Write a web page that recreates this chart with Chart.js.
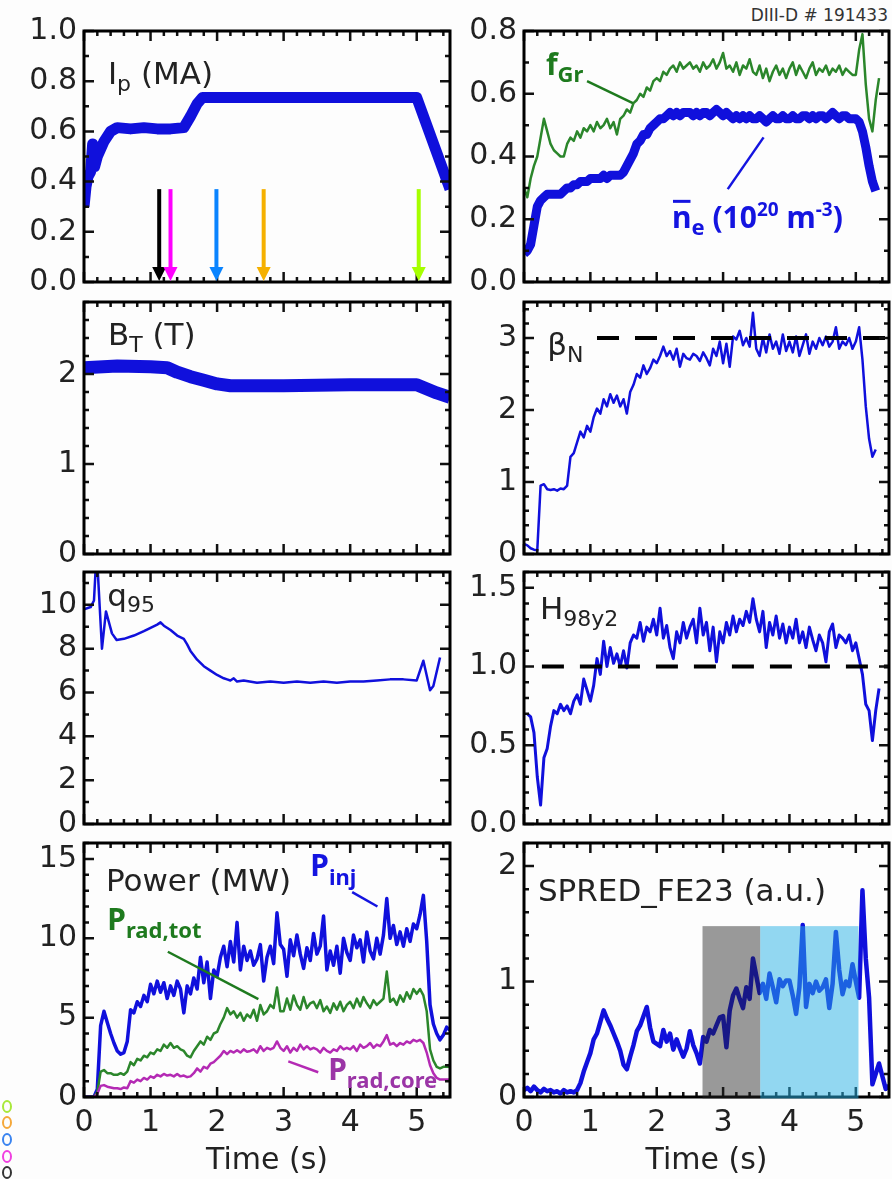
<!DOCTYPE html>
<html>
<head>
<meta charset="utf-8">
<title>DIII-D 191433</title>
<script src="https://cdn.jsdelivr.net/npm/chart.js@4.4.1/dist/chart.umd.min.js"></script>
<style>
  body { margin: 0; background: #fff; }
  #page { position: relative; width: 892px; height: 1179px; overflow: hidden; background: #fdfdfd; }
  #page canvas { position: absolute; }
  #shot { position: absolute; right: 4px; top: 5px; font: 17px 'DejaVu Sans', sans-serif; color: #333; }
  .ring { position: absolute; left: 2px; width: 6px; height: 9px; border: 2px solid; border-radius: 50%; }
</style>
</head>
<body>
<div id="page">
  <div id="shot">DIII-D # 191433</div>
  <canvas id="ip" width="454" height="301" style="left:0;top:6px"></canvas>
  <canvas id="dens" width="452" height="301" style="left:440px;top:6px"></canvas>
  <canvas id="bt" width="454" height="302" style="left:0;top:277px"></canvas>
  <canvas id="beta" width="452" height="302" style="left:440px;top:277px"></canvas>
  <canvas id="q95" width="454" height="302" style="left:0;top:547px"></canvas>
  <canvas id="h98" width="452" height="302" style="left:440px;top:547px"></canvas>
  <canvas id="power" width="454" height="361" style="left:0;top:818px"></canvas>
  <canvas id="spred" width="452" height="361" style="left:440px;top:818px"></canvas>
  <span class="ring" style="top:1100px;border-color:#a8e83a"></span>
  <span class="ring" style="top:1116px;border-color:#f5a83a"></span>
  <span class="ring" style="top:1133px;border-color:#3a84f0"></span>
  <span class="ring" style="top:1150px;border-color:#f040e0"></span>
  <span class="ring" style="top:1166px;border-color:#333"></span>
</div>
<script>
Chart.defaults.font.family = "'DejaVu Sans', sans-serif";

// time base for the sampled traces (s)
const tGrid = [
  0, 0.05, 0.1, 0.15, 0.2, 0.25, 0.3, 0.35, 0.4, 0.45,
  0.5, 0.55, 0.6, 0.65, 0.7, 0.75, 0.8, 0.85, 0.9, 0.95,
  1, 1.05, 1.1, 1.15, 1.2, 1.25, 1.3, 1.35, 1.4, 1.45,
  1.5, 1.55, 1.6, 1.65, 1.7, 1.75, 1.8, 1.85, 1.9, 1.95,
  2, 2.05, 2.1, 2.15, 2.2, 2.25, 2.3, 2.35, 2.4, 2.45,
  2.5, 2.55, 2.6, 2.65, 2.7, 2.75, 2.8, 2.85, 2.9, 2.95,
  3, 3.05, 3.1, 3.15, 3.2, 3.25, 3.3, 3.35, 3.4, 3.45,
  3.5, 3.55, 3.6, 3.65, 3.7, 3.75, 3.8, 3.85, 3.9, 3.95,
  4, 4.05, 4.1, 4.15, 4.2, 4.25, 4.3, 4.35, 4.4, 4.45,
  4.5, 4.55, 4.6, 4.65, 4.7, 4.75, 4.8, 4.85, 4.9, 4.95,
  5, 5.05, 5.1, 5.15, 5.2, 5.25, 5.3, 5.35, 5.4, 5.45,
  5.5
];

// plasma current (MA)
const ipT = [0, 0.03, 0.06, 0.1, 0.13, 0.16, 0.2, 0.3, 0.4, 0.5, 0.7, 0.9, 1.1, 1.3, 1.5, 1.6, 1.7, 1.78, 2.0, 2.5, 3.0, 3.5, 4.0, 4.5, 5.0, 5.5];
const ipV = [0.30, 0.38, 0.42, 0.44, 0.55, 0.46, 0.50, 0.56, 0.60, 0.615, 0.61, 0.615, 0.61, 0.61, 0.615, 0.66, 0.71, 0.735, 0.735, 0.735, 0.735, 0.735, 0.735, 0.735, 0.735, 0.37];

// line-averaged density (1e20 m^-3) and Greenwald fraction
const neV = [
  0.09, 0.10, 0.12, 0.18, 0.24, 0.26, 0.27, 0.28, 0.28, 0.28,
  0.28, 0.28, 0.29, 0.30, 0.30, 0.31, 0.31, 0.32, 0.32, 0.32,
  0.33, 0.33, 0.33, 0.33, 0.34, 0.33, 0.34, 0.34, 0.34, 0.34,
  0.35, 0.37, 0.39, 0.41, 0.44, 0.45, 0.47, 0.47, 0.49, 0.50,
  0.51, 0.52, 0.52, 0.53, 0.54, 0.53, 0.54, 0.53, 0.54, 0.54,
  0.54, 0.53, 0.54, 0.53, 0.54, 0.54, 0.53, 0.54, 0.55, 0.54,
  0.53, 0.54, 0.53, 0.52, 0.53, 0.52, 0.53, 0.52, 0.53, 0.52,
  0.52, 0.53, 0.52, 0.51, 0.52, 0.53, 0.52, 0.52, 0.53, 0.52,
  0.52, 0.53, 0.52, 0.52, 0.53, 0.53, 0.52, 0.53, 0.52, 0.53,
  0.53, 0.52, 0.53, 0.54, 0.53, 0.52, 0.53, 0.53, 0.52, 0.52,
  0.52, 0.51, 0.48, 0.43, 0.37, 0.32, 0.29, null, null, null,
  null
];
const fGrV = [
  0.30, 0.27, 0.33, 0.37, 0.40, 0.46, 0.52, 0.48, 0.44, 0.42,
  0.41, 0.40, 0.40, 0.44, 0.46, 0.45, 0.48, 0.46, 0.49, 0.48,
  0.50, 0.48, 0.51, 0.49, 0.50, 0.52, 0.49, 0.51, 0.47, 0.52,
  0.53, 0.55, 0.54, 0.57, 0.58, 0.60, 0.59, 0.62, 0.61, 0.64,
  0.65, 0.64, 0.67, 0.66, 0.68, 0.69, 0.67, 0.70, 0.68, 0.69,
  0.70, 0.68, 0.69, 0.67, 0.70, 0.68, 0.69, 0.71, 0.68, 0.70,
  0.73, 0.68, 0.69, 0.67, 0.70, 0.66, 0.69, 0.68, 0.71, 0.67,
  0.66, 0.69, 0.65, 0.68, 0.64, 0.67, 0.69, 0.66, 0.68, 0.65,
  0.68, 0.70, 0.66, 0.69, 0.67, 0.65, 0.68, 0.70, 0.66, 0.68,
  0.67, 0.69, 0.66, 0.68, 0.67, 0.69, 0.66, 0.68, 0.67, 0.66,
  0.66, 0.74, 0.79, 0.63, 0.52, 0.48, 0.58, 0.65, null, null,
  null
];

// toroidal field (T)
const btT = [0, 0.5, 1.0, 1.25, 1.4, 1.6, 1.8, 2.0, 2.2, 3.0, 4.0, 5.0, 5.1, 5.3, 5.5];
const btV = [2.07, 2.09, 2.08, 2.07, 2.02, 1.97, 1.93, 1.89, 1.87, 1.87, 1.88, 1.88, 1.85, 1.79, 1.74];

// normalised beta
const betaV = [
  0.14, 0.12, 0.08, 0.06, 0.05, 0.95, 0.97, 0.90, 0.89, 0.90,
  0.88, 0.91, 0.90, 0.95, 1.35, 1.40, 1.55, 1.70, 1.62, 1.78,
  1.70, 1.90, 2.02, 1.95, 2.15, 2.05, 2.22, 2.10, 2.20, 2.05,
  2.15, 1.95, 2.25, 2.35, 2.50, 2.45, 2.62, 2.50, 2.58, 2.70,
  2.65, 2.75, 2.88, 2.75, 2.82, 2.70, 2.85, 2.60, 2.78, 2.72,
  2.70, 2.78, 2.75, 2.68, 2.80, 2.72, 2.62, 2.85, 2.75, 2.95,
  2.65, 2.92, 2.60, 3.02, 2.98, 3.10, 2.90, 3.00, 2.88, 3.35,
  2.85, 2.75, 3.00, 2.80, 3.05, 2.85, 2.95, 2.78, 3.05, 2.82,
  2.95, 2.80, 3.02, 2.75, 2.90, 3.05, 2.78, 2.95, 2.85, 3.00,
  2.90, 3.02, 2.88, 2.95, 3.15, 2.85, 2.95, 2.90, 3.00, 2.85,
  2.95, 3.15, 2.70, 2.05, 1.60, 1.35, 1.45, null, null, null,
  null
];
const betaRefT = [1.1, 5.5];
const betaRefV = [3, 3];

// edge safety factor
const q95T = [0, 0.1, 0.15, 0.19, 0.27, 0.33, 0.42, 0.49, 0.6, 0.75, 0.9, 1.0, 1.1, 1.15, 1.2, 1.3, 1.4, 1.5, 1.55, 1.6, 1.7, 1.8, 1.9, 2.0, 2.1, 2.15, 2.2, 2.25, 2.3, 2.4, 2.6, 2.8, 3.0, 3.2, 3.4, 3.6, 3.8, 4.0, 4.2, 4.4, 4.6, 4.8, 5.0, 5.1, 5.2, 5.25, 5.35];
const q95V = [9.8, 9.9, 10.2, 12.5, 8.0, 9.7, 8.7, 8.4, 8.45, 8.6, 8.8, 8.95, 9.1, 9.2, 9.05, 8.85, 8.6, 8.45, 8.2, 7.9, 7.5, 7.2, 7.0, 6.8, 6.65, 6.6, 6.55, 6.65, 6.5, 6.55, 6.45, 6.5, 6.45, 6.5, 6.45, 6.5, 6.45, 6.5, 6.5, 6.55, 6.6, 6.6, 6.55, 7.45, 6.1, 6.3, 7.6];

// confinement factor H98y2
const h98V = [
  null, 0.70, 0.68, 0.58, 0.30, 0.12, 0.42, 0.48, 0.62, 0.72,
  0.70, 0.76, 0.72, 0.75, 0.70, 0.78, 0.82, 0.76, 0.92, 0.85,
  0.78, 0.88, 1.05, 0.95, 1.16, 1.00, 1.12, 1.02, 1.08, 1.00,
  1.10, 0.99, 1.15, 1.20, 1.18, 1.28, 1.16, 1.25, 1.22, 1.30,
  1.20, 1.37, 1.18, 1.26, 1.12, 1.05, 1.22, 1.15, 1.28, 1.18,
  1.25, 1.30, 1.15, 1.37, 1.20, 1.28, 1.10, 1.25, 1.03, 1.22,
  1.15, 1.28, 1.20, 1.32, 1.22, 1.30, 1.26, 1.35, 1.28, 1.43,
  1.30, 1.22, 1.35, 1.12, 1.28, 1.20, 1.32, 1.18, 1.27, 1.15,
  1.25, 1.18, 1.30, 1.15, 1.22, 1.12, 1.25, 1.17, 1.10, 1.20,
  1.15, 1.03, 1.22, 1.27, 1.12, 1.20, 1.18, 1.15, 1.20, 1.10,
  1.15, 1.05, 0.95, 0.76, 0.72, 0.53, 0.72, 0.86, null, null,
  null
];
const h98RefT = [0.27, 5.5];
const h98RefV = [1, 1];

// heating and radiated power (MW)
const pInjV = [
  0, 0, 0, 0, 0.5, 4.5, 5.4, 4.7, 4.0, 3.4,
  2.9, 2.7, 2.8, 3.5, 5.5, 5.3, 6.0, 5.7, 6.4, 6.0,
  7.1, 6.5, 7.3, 6.6, 7.2, 6.2, 7.0, 6.4, 7.3, 6.8,
  5.3, 7.0, 6.5, 7.5, 6.8, 8.8, 7.2, 8.5, 6.2, 8.0,
  7.6, 8.8, 9.5, 8.2, 9.8, 8.5, 11.0, 8.0, 9.5, 8.6,
  9.2, 8.3, 8.7, 9.6, 7.3, 8.8, 9.5, 8.4, 11.6, 9.6,
  9.3, 7.6, 9.9, 8.9, 10.2, 9.0, 8.1, 9.4, 8.6, 10.3,
  9.0, 9.5, 11.4, 8.0, 9.2, 8.3, 9.5, 7.8, 10.0, 9.1,
  8.6, 10.2, 9.4, 9.9, 8.5, 10.4, 9.2, 8.7, 10.0, 9.0,
  10.2, 12.5, 10.0, 10.8, 9.6, 10.4, 9.5, 10.6, 9.8, 10.9,
  10.6, 11.5, 12.7, 9.8, 5.8, 4.6, 4.0, 3.6, 3.9, 4.4,
  4.2
];
const pRadTotV = [
  0, 0, 0, 0, 0.3, 1.6, 1.7, 1.5, 1.5, 1.4,
  1.4, 1.5, 1.4, 1.6, 2.2, 2.0, 2.4, 2.3, 2.6, 2.5,
  2.8, 2.7, 3.0, 2.9, 3.3, 3.1, 3.4, 3.1, 3.2, 3.0,
  2.9, 2.6, 2.5, 2.9, 3.2, 3.5, 3.3, 3.8, 3.6, 4.0,
  4.1, 4.6, 5.0, 5.6, 5.2, 5.4, 5.0, 5.3, 4.8, 5.2,
  5.0, 5.5, 4.8, 5.8, 5.2, 5.4, 5.8, 5.6, 6.9, 5.4,
  5.4, 6.2, 5.5, 6.4, 5.8, 5.5, 6.3, 5.6, 5.9, 6.0,
  5.6, 6.1, 5.4, 5.7, 5.3, 5.9, 5.5, 6.0, 5.4, 5.8,
  6.0, 5.6, 6.2, 5.7, 6.3, 5.9, 5.6, 6.1, 5.8, 6.0,
  6.2, 7.9, 6.0, 6.2, 5.8, 6.4, 6.0, 6.6, 6.2, 6.8,
  6.5, 6.8, 6.4, 5.4, 3.0, 2.3, 1.9, 1.8, 1.9, 1.9,
  1.9
];
const pRadCoreV = [
  0, 0, 0, 0, 0.2, 0.7, 0.75, 0.65, 0.6, 0.55,
  0.55, 0.5, 0.6, 0.55, 1.0, 0.9, 1.1, 1.0, 1.2, 1.1,
  1.3, 1.2, 1.4, 1.3, 1.45, 1.35, 1.4, 1.3, 1.45, 1.3,
  1.35, 1.25, 1.3, 1.5, 1.8, 1.6, 1.9, 1.8, 2.1, 2.2,
  2.4, 2.6, 2.9, 2.7, 2.9, 2.8, 2.95, 2.8, 3.0, 2.85,
  2.9, 3.0, 2.8, 3.2, 2.9, 3.1, 3.0, 3.1, 3.5, 3.1,
  2.9, 3.2, 2.8, 3.1, 2.9, 3.3, 3.0, 3.2, 3.0, 3.1,
  3.0, 2.8, 3.1, 2.9, 2.8, 3.0, 2.9, 3.2, 3.0, 3.1,
  3.0, 3.2, 2.9, 3.3, 3.1, 3.2, 3.4, 3.1, 3.3, 3.2,
  3.5, 3.9, 3.3, 3.4, 3.2, 3.4, 3.3, 3.5, 3.4, 3.6,
  3.5, 3.6, 3.4, 2.8, 2.0, 1.5, 1.2, 1.1, 1.1, 1.1,
  1.1
];

// SPRED Fe XXIII line brightness (a.u.)
const spredV = [
  0.06, 0.08, 0.05, 0.09, 0.06, 0.04, 0.07, 0.05, 0.06, 0.04,
  0.05, 0.03, 0.06, 0.04, 0.05, 0.04, 0.06, 0.12, 0.22, 0.30,
  0.38, 0.50, 0.55, 0.65, 0.75, 0.68, 0.62, 0.55, 0.48, 0.40,
  0.28, 0.24, 0.35, 0.45, 0.57, 0.62, 0.70, 0.78, 0.60, 0.48,
  0.46, 0.44, 0.58, 0.48, 0.55, 0.41, 0.50, 0.42, 0.35, 0.42,
  0.57, 0.45, 0.38, 0.29, 0.52, 0.48, 0.58, 0.55, 0.62, 0.69,
  0.70, 0.43, 0.75, 0.88, 0.94, 0.85, 0.77, 0.95, 0.85, 1.20,
  1.05, 0.90, 0.98, 0.85, 1.07, 0.95, 0.82, 1.02, 0.96, 1.01,
  1.01, 0.88, 0.72, 0.95, 1.49, 0.78, 0.98, 0.90, 1.00, 0.92,
  0.95, 1.02, 0.77, 0.98, 1.43, 1.10, 0.89, 1.00, 0.96, 1.15,
  1.00, 0.86, 1.79, 1.20, 0.86, 0.11, 0.20, 0.29, 0.18, 0.07,
  0.10
];

// analysis time slices (s) and averaging windows
const sliceTimes = [1.13, 1.30, 1.99, 2.70, 5.03];
const sliceTop = 0.37;
const windowStart = [2.69, 3.56];
const windowEnd = [3.56, 5.04];
const windowTop = 1.48;

const BLUE = '#1010dc';
const GREEN = '#2b862b';
const MAGENTA = '#b42ab4';
const sliceColors = ['#000000', '#ff00ff', '#0a84ff', '#f5b000', '#a6ff00'];
const windowColors = ['rgba(35,35,35,0.46)', 'rgba(40,178,229,0.5)'];

const textStyles = {
  plain: { family: "'DejaVu Sans'", weight: 'normal', size: 31, color: '#222' },
  blue: { family: "'Noto Sans'", weight: 'bold', size: 30, color: '#1414e0' },
  green: { family: "'Noto Sans'", weight: 'bold', size: 30, color: '#1e7a1e' },
  purple: { family: "'Noto Sans'", weight: 'bold', size: 30, color: '#9b35a6' }
};

// per-panel axes and annotations (annotation anchors are in data units)
const panelCfg = {
  ip: { yMax: 1, yStep: 0.2, yMinor: 0.1, dec: 1, padRight: 4, arrows: true,
    texts: [{ x: 0.36, y: 0.79, parts: [{ t: 'I' }, { t: 'p', size: 22, dy: 7 }, { t: ' (MA)' }] }] },
  dens: { yMax: 0.8, yStep: 0.2, yMinor: 0.1, dec: 1, padRight: 3,
    texts: [
      { x: 0.33, y: 0.66, style: 'green', parts: [{ t: 'f' }, { t: 'Gr', size: 22, dy: 7 }] },
      { x: 2.23, y: 0.171, style: 'blue', parts: [{ t: 'n', bar: true }, { t: 'e', size: 22, dy: 7 }, { t: ' (10' }, { t: '20', size: 19, dy: -12 }, { t: ' m' }, { t: '-3', size: 19, dy: -12 }, { t: ')' }] }
    ],
    leaders: [
      { from: [0.95, 0.64], to: [1.64, 0.57], color: '#1e7a1e' },
      { from: [3.07, 0.296], to: [3.61, 0.461], color: '#1414e0' }
    ] },
  bt: { yMax: 2.8, yStep: 1, yMinor: 0.2, dec: 0, padRight: 4,
    texts: [{ x: 0.36, y: 2.32, parts: [{ t: 'B' }, { t: 'T', size: 22, dy: 7 }, { t: ' (T)' }] }] },
  beta: { yMax: 3.5, yStep: 1, yMinor: 0.2, dec: 0, padRight: 3,
    texts: [{ x: 0.35, y: 2.77, parts: [{ t: 'β' }, { t: 'N', size: 22, dy: 7 }] }] },
  q95: { yMax: 11.5, yStep: 2, yMinor: 1, dec: 0, padRight: 4,
    texts: [{ x: 0.35, y: 9.96, parts: [{ t: 'q' }, { t: '95', size: 22, dy: 6 }] }] },
  h98: { yMax: 1.6, yStep: 0.5, yMinor: 0.1, dec: 1, padRight: 3,
    texts: [{ x: 0.24, y: 1.30, parts: [{ t: 'H' }, { t: '98y2', size: 22, dy: 7 }] }] },
  power: { yMax: 16, yStep: 5, yMinor: 1, dec: 0, padRight: 4, xTitle: 'Time (s)',
    texts: [
      { x: 0.33, y: 13.0, parts: [{ t: 'Power (MW)' }] },
      { x: 3.40, y: 13.95, style: 'blue', parts: [{ t: 'P' }, { t: 'inj', size: 22, dy: 9 }] },
      { x: 0.35, y: 10.5, style: 'green', parts: [{ t: 'P' }, { t: 'rad,tot', size: 22, dy: 8 }] },
      { x: 3.67, y: 1.06, style: 'purple', parts: [{ t: 'P' }, { t: 'rad,core', size: 22, dy: 8 }] }
    ],
    leaders: [
      { from: [4.03, 12.9], to: [4.41, 12.0], color: '#1414e0' },
      { from: [1.26, 9.15], to: [2.62, 6.16], color: '#1e7a1e' },
      { from: [3.07, 2.24], to: [3.52, 1.56], color: '#b42ab4' }
    ] },
  spred: { yMax: 2.2, yStep: 1, yMinor: 0.2, dec: 0, padRight: 3, xTitle: 'Time (s)', windows: true,
    texts: [{ x: 0.21, y: 1.70, parts: [{ t: 'SPRED_FE23 (a.u.)' }] }] }
};

const toXY = (ts, vs) => ts.map((t, i) => ({ x: t, y: vs[i] }));

function trace(ts, vs, color, width) {
  return { data: toXY(ts, vs), borderColor: color, borderWidth: width, pointRadius: 0,
    borderJoinStyle: 'round', fill: false, tension: 0 };
}
function dashed(ts, vs) {
  return { data: toXY(ts, vs), borderColor: '#000', borderWidth: 4, borderDash: [22, 16], pointRadius: 0 };
}

function steps(min, max, step) {
  const out = [];
  const n = Math.floor((max - min) / step + 1e-6);
  for (let i = 0; i <= n; i++) out.push(min + i * step);
  return out;
}
const onStep = (v, step) => Math.abs(v / step - Math.round(v / step)) < 1e-6;

function richText(ctx, x, y, parts, st) {
  let cx = x;
  for (const p of parts) {
    const size = p.size || st.size;
    ctx.font = `${st.weight} ${size}px ${st.family}`;
    ctx.fillStyle = st.color;
    const w = ctx.measureText(p.t).width;
    ctx.fillText(p.t, cx, y + (p.dy || 0));
    if (p.bar) ctx.fillRect(cx + 1, y - size * 0.95, w - 2, 3);
    cx += w;
  }
}

// inward ticks on all four sides, frame, windows, arrows and labels
const framePlugin = {
  id: 'frame',
  afterDatasetsDraw(chart) {
    const c = panelCfg[chart.canvas.id];
    const { ctx, chartArea: a } = chart;
    const xs = chart.scales.x, ys = chart.scales.y;
    ctx.save();
    ctx.strokeStyle = '#111';
    ctx.lineWidth = 2.5;
    ctx.beginPath();
    for (const v of steps(0, 5.5, 0.2)) {
      const px = xs.getPixelForValue(v);
      const len = onStep(v, 1) ? 10 : 5;
      ctx.moveTo(px, a.bottom); ctx.lineTo(px, a.bottom - len);
      ctx.moveTo(px, a.top); ctx.lineTo(px, a.top + len);
    }
    for (const v of steps(0, c.yMax, c.yMinor)) {
      const py = ys.getPixelForValue(v);
      const len = onStep(v, c.yStep) ? 10 : 5;
      ctx.moveTo(a.left, py); ctx.lineTo(a.left + len, py);
      ctx.moveTo(a.right, py); ctx.lineTo(a.right - len, py);
    }
    ctx.stroke();
    ctx.lineWidth = 3;
    ctx.strokeStyle = '#000';
    ctx.strokeRect(a.left, a.top, a.width, a.height);

    if (c.windows) {
      windowStart.forEach((t0, i) => {
        const x0 = xs.getPixelForValue(t0), x1 = xs.getPixelForValue(windowEnd[i]);
        const yTop = ys.getPixelForValue(windowTop);
        ctx.fillStyle = windowColors[i];
        ctx.fillRect(x0, yTop, x1 - x0, a.bottom + 1.5 - yTop);
      });
    }

    if (c.arrows) {
      sliceTimes.forEach((t, i) => {
        const px = xs.getPixelForValue(t);
        const yTop = ys.getPixelForValue(sliceTop);
        const yTip = ys.getPixelForValue(0) - 1;
        ctx.strokeStyle = sliceColors[i];
        ctx.fillStyle = sliceColors[i];
        ctx.lineWidth = 4;
        ctx.beginPath();
        ctx.moveTo(px, yTop); ctx.lineTo(px, yTip - 12);
        ctx.stroke();
        ctx.beginPath();
        ctx.moveTo(px - 7, yTip - 14); ctx.lineTo(px + 7, yTip - 14); ctx.lineTo(px, yTip);
        ctx.closePath();
        ctx.fill();
      });
    }

    ctx.lineWidth = 2.5;
    for (const l of c.leaders || []) {
      ctx.strokeStyle = l.color;
      ctx.beginPath();
      ctx.moveTo(xs.getPixelForValue(l.from[0]), ys.getPixelForValue(l.from[1]));
      ctx.lineTo(xs.getPixelForValue(l.to[0]), ys.getPixelForValue(l.to[1]));
      ctx.stroke();
    }

    ctx.textBaseline = 'alphabetic';
    ctx.textAlign = 'left';
    for (const tx of c.texts || []) {
      richText(ctx, xs.getPixelForValue(tx.x), ys.getPixelForValue(tx.y), tx.parts, textStyles[tx.style || 'plain']);
    }
    ctx.restore();
  }
};

const tickFont = { family: "'DejaVu Sans'", size: 30 };

function makePanel(id, datasets) {
  const c = panelCfg[id];
  const bottomRow = !!c.xTitle;
  new Chart(document.getElementById(id), {
    type: 'line',
    data: { datasets },
    options: {
      responsive: false,
      animation: false,
      devicePixelRatio: 1,
      layout: { padding: { top: 22, bottom: bottomRow ? 0 : 22, left: 0, right: c.padRight } },
      plugins: { legend: { display: false }, tooltip: { enabled: false } },
      scales: {
        x: {
          type: 'linear', min: 0, max: 5.5, display: bottomRow,
          grid: { display: false, drawTicks: false }, border: { display: false },
          ticks: { stepSize: 1, includeBounds: false, autoSkip: false, maxRotation: 0, minRotation: 0, padding: 8,
            color: '#222', font: tickFont, callback: v => onStep(v, 1) ? String(Math.round(v)) : '' },
          title: { display: bottomRow, text: c.xTitle || '', color: '#222', font: tickFont, padding: 0 },
          afterFit: s => { if (bottomRow) s.height = 82; }
        },
        y: {
          type: 'linear', min: 0, max: c.yMax,
          grid: { display: false, drawTicks: false }, border: { display: false },
          ticks: { stepSize: c.yStep, includeBounds: false, autoSkip: false, padding: 7, color: '#222', font: tickFont,
            callback: v => onStep(v, c.yStep) ? v.toFixed(c.dec) : '' },
          afterFit: s => { s.width = 84; }
        }
      }
    },
    plugins: [framePlugin]
  });
}

makePanel('ip', [trace(ipT, ipV, BLUE, 11)]);
makePanel('dens', [trace(tGrid, fGrV, GREEN, 2.5), trace(tGrid, neV, BLUE, 9)]);
makePanel('bt', [trace(btT, btV, BLUE, 13)]);
makePanel('beta', [dashed(betaRefT, betaRefV), trace(tGrid, betaV, BLUE, 2.5)]);
makePanel('q95', [trace(q95T, q95V, BLUE, 2.5)]);
makePanel('h98', [dashed(h98RefT, h98RefV), trace(tGrid, h98V, BLUE, 3)]);
makePanel('power', [trace(tGrid, pRadCoreV, MAGENTA, 2.5), trace(tGrid, pRadTotV, GREEN, 2.5), trace(tGrid, pInjV, BLUE, 3.5)]);
makePanel('spred', [trace(tGrid, spredV, BLUE, 4.5)]);
</script>
</body>
</html>
